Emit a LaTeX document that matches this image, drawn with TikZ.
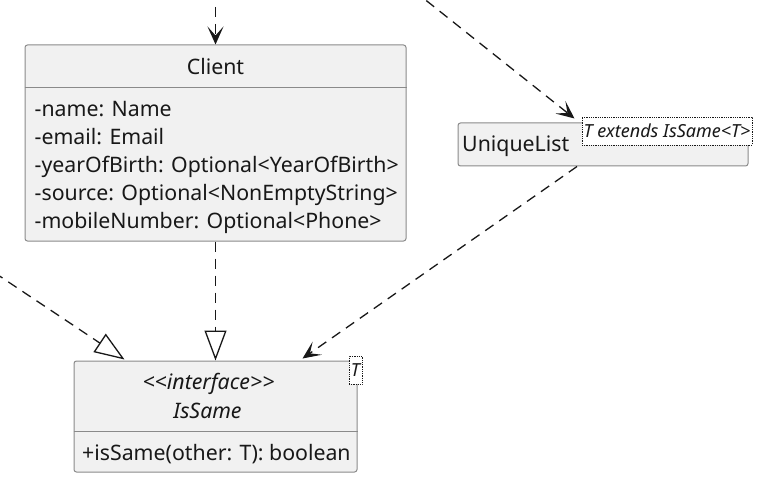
\documentclass[tikz,border=0pt]{standalone}
\usepackage{fontspec}
\setmainfont{Noto Sans}
\usetikzlibrary{arrows.meta}

\definecolor{boxfill}{HTML}{F1F1F1}
\definecolor{boxline}{HTML}{8A8A8A}
\definecolor{inkcol}{HTML}{181818}

\tikzset{
  classbox/.style={draw=boxline, fill=boxfill, rounded corners=2.5pt, line width=1pt, inner sep=0pt},
  tmplbox/.style={draw=inkcol, fill=white, densely dotted, line width=0.8pt, inner sep=0pt,
    text=inkcol, font=\fontsize{18}{20}\selectfont\itshape},
  txt/.style={font=\fontsize{21.3}{28}\selectfont, text=inkcol, inner sep=0pt},
  itxt/.style={txt, font=\fontsize{21.3}{28}\selectfont\itshape},
  dep/.style={draw=inkcol, line width=1.3pt, dash pattern=on 10pt off 7pt,
    -{Stealth[length=18pt,width=16pt,inset=9pt]}},
  real/.style={draw=inkcol, line width=1.3pt, dash pattern=on 10pt off 7pt,
    -{Triangle[length=30pt,width=22pt,fill=white]}}
}

\begin{document}
\begin{tikzpicture}[x=1pt,y=-1pt]
\useasboundingbox (0,0) rectangle (778,494);
\clip (0,0) rectangle (778,494);

% Client
\node[classbox, minimum width=381pt, minimum height=196pt] (client) at (215.5,143) {};
\node[txt, anchor=base] (clientname) at (215.5,75) {Client};
\draw[boxline, line width=1pt] ([yshift=-43pt]client.north west) -- ([yshift=-43pt]client.north east);
\foreach \attr [count=\i] in {-name: Name, -email: Email, -yearOfBirth: Optional<YearOfBirth>,
    -source: Optional<NonEmptyString>, -mobileNumber: Optional<Phone>}
  \node[txt, anchor=base west] (attr\i) at (34.5,89+28*\i) {\attr};

% UniqueList
\node[classbox, minimum width=290pt, minimum height=43pt] (ulist) at (603,144.5) {};
\node[txt, anchor=base west] (ulistname) at (462,152) {UniqueList};
\node[tmplbox, minimum width=170pt, minimum height=28pt] (ulistT) at (667,131) {T extends IsSame<T>};

% IsSame
\node[classbox, minimum width=283pt, minimum height=111pt] (issame) at (215.5,416.5) {};
\node[itxt, anchor=base] (stereo) at (208.5,389) {<\kern0pt<interface>\kern0pt>};
\node[itxt, anchor=base] (issamename) at (207.5,418) {IsSame};
\draw[boxline, line width=1pt] ([yshift=-71pt]issame.north west) -- ([yshift=-71pt]issame.north east);
\node[txt, anchor=base west] (method) at (82,460) {+isSame(other: T): boolean};
\node[tmplbox, minimum width=13pt, minimum height=28pt] (issameT) at (355.5,370) {T};

% connectors
\coordinate (topin) at (215.5,-10);
\coordinate (topright) at (413,-10);
\coordinate (leftin) at (-20,263);
\draw[dep] (topin) -- (client.north);
\draw[dep] (topright) -- ([xshift=117pt,yshift=4pt]ulist.north west);
\draw[dep] ([xshift=-26pt]ulist.south) -- ([xshift=229pt,yshift=2pt]issame.north west);
\draw[real] (client.south) -- (issame.north);
\draw[real] (leftin) -- ([xshift=51pt,yshift=1pt]issame.north west);
\end{tikzpicture}
\end{document}
